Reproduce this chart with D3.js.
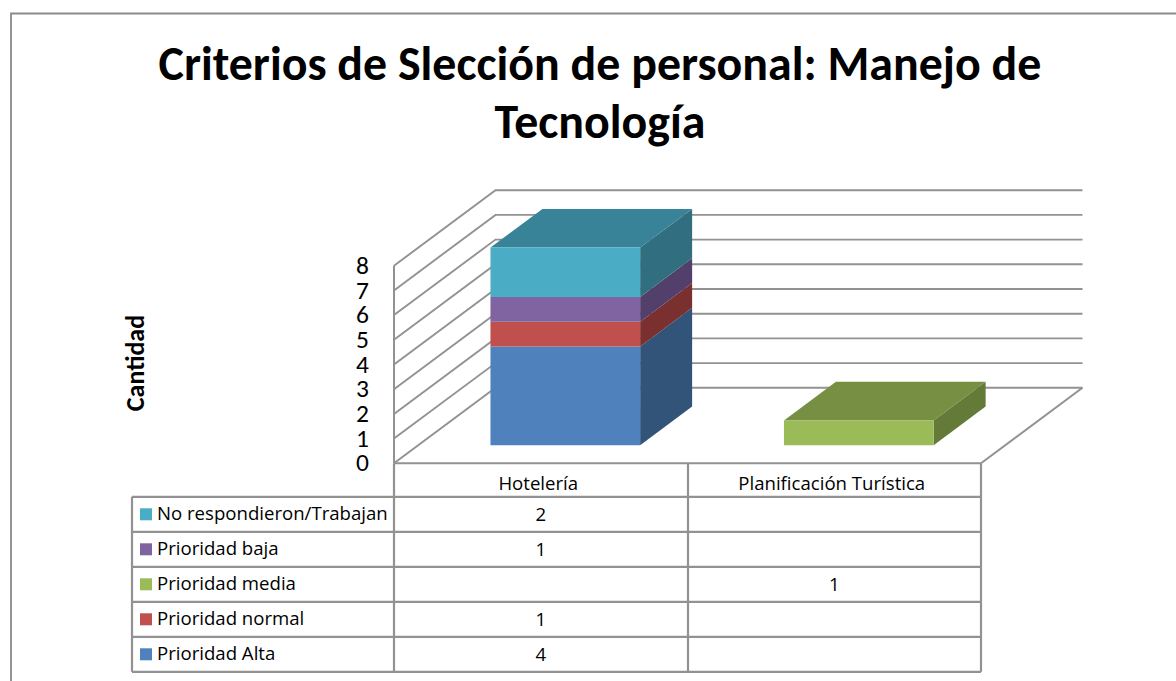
<!DOCTYPE html>
<html><head><meta charset="utf-8">
<script src="https://cdn.jsdelivr.net/npm/d3@7"></script>
<style>html,body{margin:0;padding:0;background:#fff;overflow:hidden}svg{display:block}text{font-family:Lato,Carlito,sans-serif;fill:#000}.sm{font-family:"Open Sans",sans-serif;font-size:18.6px}</style>
</head><body><svg id="c" width="1176" height="681"></svg>
<script>
const titleLines = ["Criterios de Slección de personal: Manejo de", "Tecnología"];
const yTitle = "Cantidad";
const categories = ["Hotelería", "Planificación Turística"];
const seriesNames = ["Prioridad Alta", "Prioridad normal", "Prioridad media", "Prioridad baja", "No respondieron/Trabajan"];
const prioridadAlta = [4, null];
const prioridadNormal = [1, null];
const prioridadMedia = [null, 1];
const prioridadBaja = [1, null];
const noRespondieron = [2, null];
const seriesValues = [prioridadAlta, prioridadNormal, prioridadMedia, prioridadBaja, noRespondieron];
const yTicks = [0,1,2,3,4,5,6,7,8];
const colorFront = ["#4F81BD","#C0504D","#9BBB59","#8064A2","#4BACC6"];
const colorSide  = ["#325479","#7A302E","#647A39","#533F6B","#316F80"];
const colorTop   = ["#3E6796","#984240","#768F42","#664F82","#388397"];

const svg = d3.select("#c");
const grid = "#929292";
const x = d3.scaleBand().domain(categories).range([394.2,981.2]).paddingInner(0.49).paddingOuter(0.245);
const xTable = d3.scaleBand().domain(categories).range([394,981]);
const y = d3.scaleLinear().domain([0,8]).range([463.3,265.7]);
const DX = 101.5, DY = -75.5;
const P = (px,py,d)=>[px+DX*d, py+DY*d];
const poly = pts => pts.map(p=>p.join(",")).join(" ");
const line = (x1,y1,x2,y2,w=2,c=grid)=>svg.append("line").attr("x1",x1).attr("y1",y1).attr("x2",x2).attr("y2",y2).attr("stroke",c).attr("stroke-width",w);

// outer frame
svg.append("path").attr("d","M11,681V13.5H1176").attr("fill","none").attr("stroke","#8a8a8a").attr("stroke-width",1.8);

// title
svg.append("g").selectAll("text").data(titleLines).join("text")
  .attr("x",600).attr("y",(d,i)=>80+i*58).attr("text-anchor","middle")
  .attr("font-size",47.9).attr("font-weight",700).style("font-family","Carlito,Lato,sans-serif").text(d=>d);

// walls
yTicks.forEach(t=>{
  const a=P(394,y(t),0), b=P(394,y(t),1), c=P(981,y(t),1);
  svg.append("polyline").attr("points",poly([a,b,c])).attr("fill","none").attr("stroke",grid).attr("stroke-width",1.9);
});
line(394,y(8),394,y(0));
{const b=P(981,y(0),1); line(b[0],b[1],981,y(0));}
line(394,y(0),981,y(0));

// bars
const d0=0.24, d1=0.752;
const stack = d3.stack().keys(d3.range(seriesNames.length)).value((c,k)=>seriesValues[k][c]||0)(d3.range(categories.length));
categories.forEach((cat,ci)=>{
  const xl=x(cat), xr=xl+x.bandwidth();
  stack.forEach((layer,k)=>{
    if(!seriesValues[k][ci]) return;
    const [v0,v1]=layer[ci];
    const base=f=>P(f,y(v0),d0), top=f=>P(f,y(v1),d0);
    const b0=[xl,xr].map(base), t0=[xl,xr].map(top);
    const y0b=P(xr,y(v0),d1), y1b=P(xr,y(v1),d1), tl=P(xl,y(v1),d1);
    svg.append("polygon").attr("points",poly([b0[1],t0[1],y1b,y0b])).attr("fill",colorSide[k]);
    if(v1===d3.max(stack,l=>l[ci][1])) svg.append("polygon").attr("points",poly([t0[0],t0[1],y1b,tl])).attr("fill",colorTop[k]);
    svg.append("polygon").attr("points",poly([b0[0],b0[1],t0[1],t0[0]])).attr("fill",colorFront[k]);
  });
});

// y axis
const ax = svg.append("g").attr("transform","translate(376,-0.5)").call(d3.axisLeft(y).tickValues(yTicks).tickSize(0).tickPadding(7).tickFormat(d3.format("d")));
ax.select(".domain").remove();
ax.selectAll("text").attr("font-size",25.5).style("font-family","Carlito,Lato,sans-serif");
svg.append("text").attr("transform","translate(144,363) rotate(-90)").attr("text-anchor","middle")
  .attr("font-size",26).attr("font-weight",700).style("font-family","Carlito,Lato,sans-serif").text(yTitle);

// data table
const rows = d3.range(seriesNames.length).reverse();
const rowY = d3.scaleBand().domain(rows).range([496.8,671.8]);
[394,688,981].forEach(v=>line(v,463.3,v,671.8,2.2));
line(132,496.8,132,671.8,2.2);
rows.forEach(k=>line(132,rowY(k),981,rowY(k),2.2));
line(132,671.8,981,671.8,2.2);
categories.forEach(c=>svg.append("text").attr("class","sm").attr("x",xTable(c)+xTable.bandwidth()/2-2.5).attr("y",490).attr("text-anchor","middle").text(c));
rows.forEach(k=>{
  const ry=rowY(k), h=rowY.bandwidth();
  svg.append("rect").attr("x",140).attr("y",ry+h/2-6).attr("width",12).attr("height",12).attr("fill",colorFront[k]);
  svg.append("text").attr("class","sm").attr("x",157).attr("y",ry+h/2+6).text(seriesNames[k]);
  categories.forEach((c,ci)=>{
    const v=seriesValues[k][ci];
    if(v!=null) svg.append("text").attr("class","sm").attr("x",xTable(c)+xTable.bandwidth()/2).attr("y",ry+h/2+7).attr("text-anchor","middle").text(v);
  });
});
</script></body></html>
